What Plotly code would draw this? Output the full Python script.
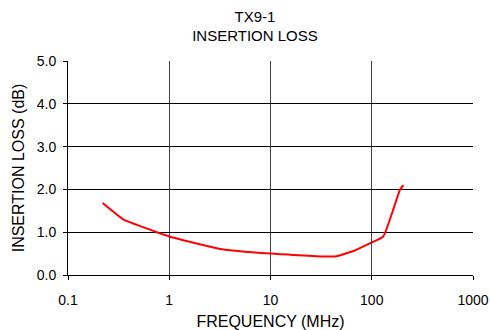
import plotly.graph_objects as go

freq_mhz = [0.22, 0.35, 0.48, 1.0, 3.2, 10, 34, 45, 66, 100, 130, 190, 205]
loss_db = [1.68, 1.30, 1.17, 0.90, 0.61, 0.50, 0.43, 0.44, 0.56, 0.76, 0.90, 1.99, 2.10]

x_tickvals = [0.1, 1, 10, 100, 1000]
x_ticktext = ["0.1", "1", "10", "100", "1000"]
y_tickvals = [0, 1, 2, 3, 4, 5]
y_ticktext = ["0.0", "1.0", "2.0", "3.0", "4.0", "5.0"]

font = "Liberation Sans, Arial, sans-serif"

fig = go.Figure()
fig.add_trace(go.Scatter(x=freq_mhz, y=loss_db, mode="lines",
                         line=dict(color="#ff0000", width=2, shape="spline", smoothing=0.4),
                         showlegend=False, hoverinfo="skip"))

fig.update_layout(
    width=490, height=330,
    margin=dict(l=68, r=17, t=61, b=55, autoexpand=False),
    paper_bgcolor="white", plot_bgcolor="white",
    font=dict(family=font, size=14, color="black"),
    title=dict(text="TX9-1<br>INSERTION LOSS", x=0.5204, xanchor="center",
               y=0.934, yanchor="top", font=dict(family=font, size=15, color="black"),
               automargin=False),
)
fig.update_xaxes(
    type="log", range=[-1, 3], automargin=False,
    tickvals=x_tickvals, ticktext=x_ticktext,
    showgrid=True, gridcolor="#444444", gridwidth=1,
    showline=True, linecolor="black", linewidth=1,
    ticks="outside", ticklen=4, tickcolor="black",
    ticklabelstandoff=8,
    zeroline=False,
    title=dict(text="FREQUENCY (MHz)", font=dict(family=font, size=16), standoff=9),
    tickfont=dict(family=font, size=14),
)
fig.update_yaxes(
    range=[0, 5], automargin=False,
    tickvals=y_tickvals, ticktext=y_ticktext,
    showgrid=True, gridcolor="black", gridwidth=1,
    showline=True, linecolor="black", linewidth=1,
    ticks="outside", ticklen=4, tickcolor="black",
    ticklabelstandoff=4,
    zeroline=False,
    title=dict(text="INSERTION LOSS (dB)", font=dict(family=font, size=16), standoff=8),
    tickfont=dict(family=font, size=14),
)

fig.write_html(
    "out.html",
    config={"displayModeBar": False},
    post_script="document.body.style.margin='0';document.body.style.overflow='hidden';",
)
